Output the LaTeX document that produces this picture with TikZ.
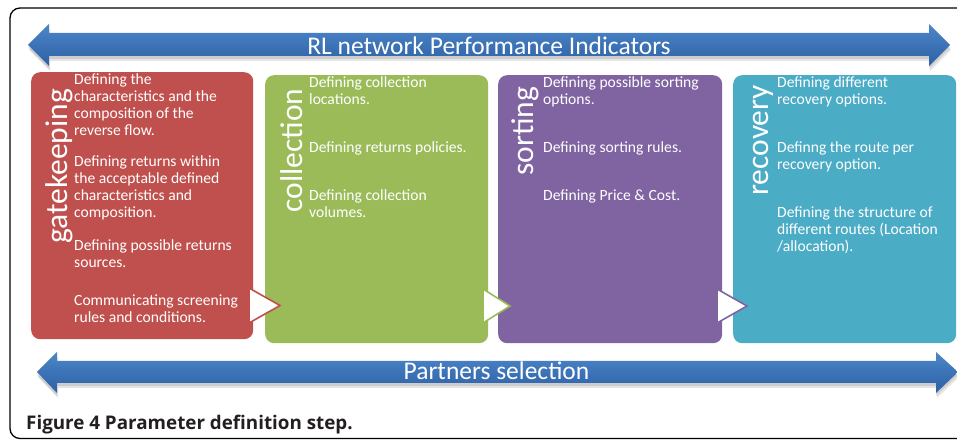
\documentclass[tikz,border=0pt]{standalone}
\usepackage{fontspec}
\setmainfont{Carlito}
\newfontfamily\capfont{Open Sans}
\definecolor{cred}{HTML}{C0504D}
\definecolor{cgreen}{HTML}{9BBB59}
\definecolor{cpurple}{HTML}{8064A2}
\definecolor{cteal}{HTML}{4BACC6}
\definecolor{atop}{HTML}{4C86C9}
\definecolor{abot}{HTML}{2D60A4}
\definecolor{capcol}{HTML}{231F20}
\newcommand\myTopArrow{(28,45) -- (49,24) -- (49,33) -- (929,33) -- (929,24) -- (950,45) -- (929,66) -- (929,56) -- (49,56) -- (49,66) -- cycle}
\newcommand\myBotArrow{(37,372) -- (57,352) -- (57,361) -- (936,361) -- (936,352) -- (958,372) -- (936,393) -- (936,383) -- (57,383) -- (57,393) -- cycle}
\begin{document}
\begin{tikzpicture}[x=1bp,y=-1bp,
  stage/.style={rounded corners=9bp, draw=none, inner sep=0pt, anchor=north west},
  body/.style={text=white, font=\fontsize{15.6bp}{17bp}\selectfont, align=left, inner sep=0pt, anchor=base west},
  vlabel/.style={text=white, font=\fontsize{31.5bp}{32bp}\selectfont, rotate=90, inner sep=0pt, anchor=base west},
  chev/.style={fill=white, line width=1.6bp, line join=miter},
  bararrow/.style={top color=atop, bottom color=abot, draw=none},
  barshadow/.style={fill=black, opacity=0.10},
  bartext/.style={text=white, font=\fontsize{25.5bp}{26bp}\selectfont, inner sep=0pt, anchor=base}]
\useasboundingbox (0,0) rectangle (957,441);
\fill[white] (0,0) rectangle (957,441);
\clip (0,0) rectangle (957,441);
% frame
\draw[line width=1.3bp, rounded corners=10bp] (10,8) rectangle (985,438.5);
% arrows with soft shadow
\path[barshadow, shift={(0,3)}] \myTopArrow;
\path[barshadow, shift={(1,5)}] \myTopArrow;
\path[bararrow] \myTopArrow;
\path[barshadow, shift={(0,3)}] \myBotArrow;
\path[barshadow, shift={(1,5)}] \myBotArrow;
\path[bararrow] \myBotArrow;
\node[bartext] (rl) at (489,55) {RL network Performance Indicators};
\node[bartext] (ps) at (496.5,380) {Partners selection};
% stage boxes
\node[stage, fill=cred, minimum width=222bp, minimum height=267bp] (gk) at (31,72) {};
\node[stage, fill=cgreen, minimum width=223bp, minimum height=268bp] (co) at (265,75) {};
\node[stage, fill=cpurple, minimum width=224bp, minimum height=268bp] (so) at (498,75) {};
\node[stage, fill=cteal, minimum width=223bp, minimum height=268bp] (re) at (733,75) {};
% chevrons
\draw[chev, draw=cred] (249,288) -- (280,305.5) -- (249,323) -- cycle;
\draw[chev, draw=cgreen] (483,289) -- (510,306) -- (483,323) -- cycle;
\draw[chev, draw=cpurple] (717,289) -- (747,306) -- (717,323) -- cycle;
% vertical labels
\node[vlabel] (lgk) at (67,244) {gatekeeping};
\node[vlabel] (lco) at (302,212.5) {collection};
\node[vlabel] (lso) at (533,176) {sorting};
\node[vlabel] (lre) at (768,196) {recovery};
% texts gatekeeping (anchored at the baseline of the last line)
\node[body] (g1) at (74,136) {Defining the\\characteristics and the\\composition of the\\reverse flow.};
\node[body] (g2) at (74,218) {Defining returns within\\the acceptable defined\\characteristics and\\composition.};
\node[body] (g3) at (74,268) {Defining possible returns\\sources.};
\node[body] (g4) at (74,323) {Communicating screening\\rules and conditions.};
% collection
\node[body] (c1) at (309,105) {Defining collection\\locations.};
\node[body] (c2) at (309,153) {Defining returns policies.};
\node[body] (c3) at (309,218) {Defining collection\\volumes.};
% sorting
\node[body] (s1) at (543,105) {Defining possible sorting\\options.};
\node[body] (s2) at (543,153) {Defining sorting rules.};
\node[body] (s3) at (543,201) {Defining Price \& Cost.};
% recovery
\node[body] (r1) at (777,105) {Defining different\\recovery options.};
\node[body] (r2) at (777,170) {Definng the route per\\recovery option.};
\node[body] (r3) at (777,252) {Defining the structure of\\different routes (Location\\/allocation).};
% caption
\node[font=\capfont\bfseries\fontsize{18.8bp}{20bp}\selectfont, text=capcol, inner sep=0pt, anchor=base west] (cap) at (26,429) {Figure 4 Parameter definition step.};
\end{tikzpicture}
\end{document}
